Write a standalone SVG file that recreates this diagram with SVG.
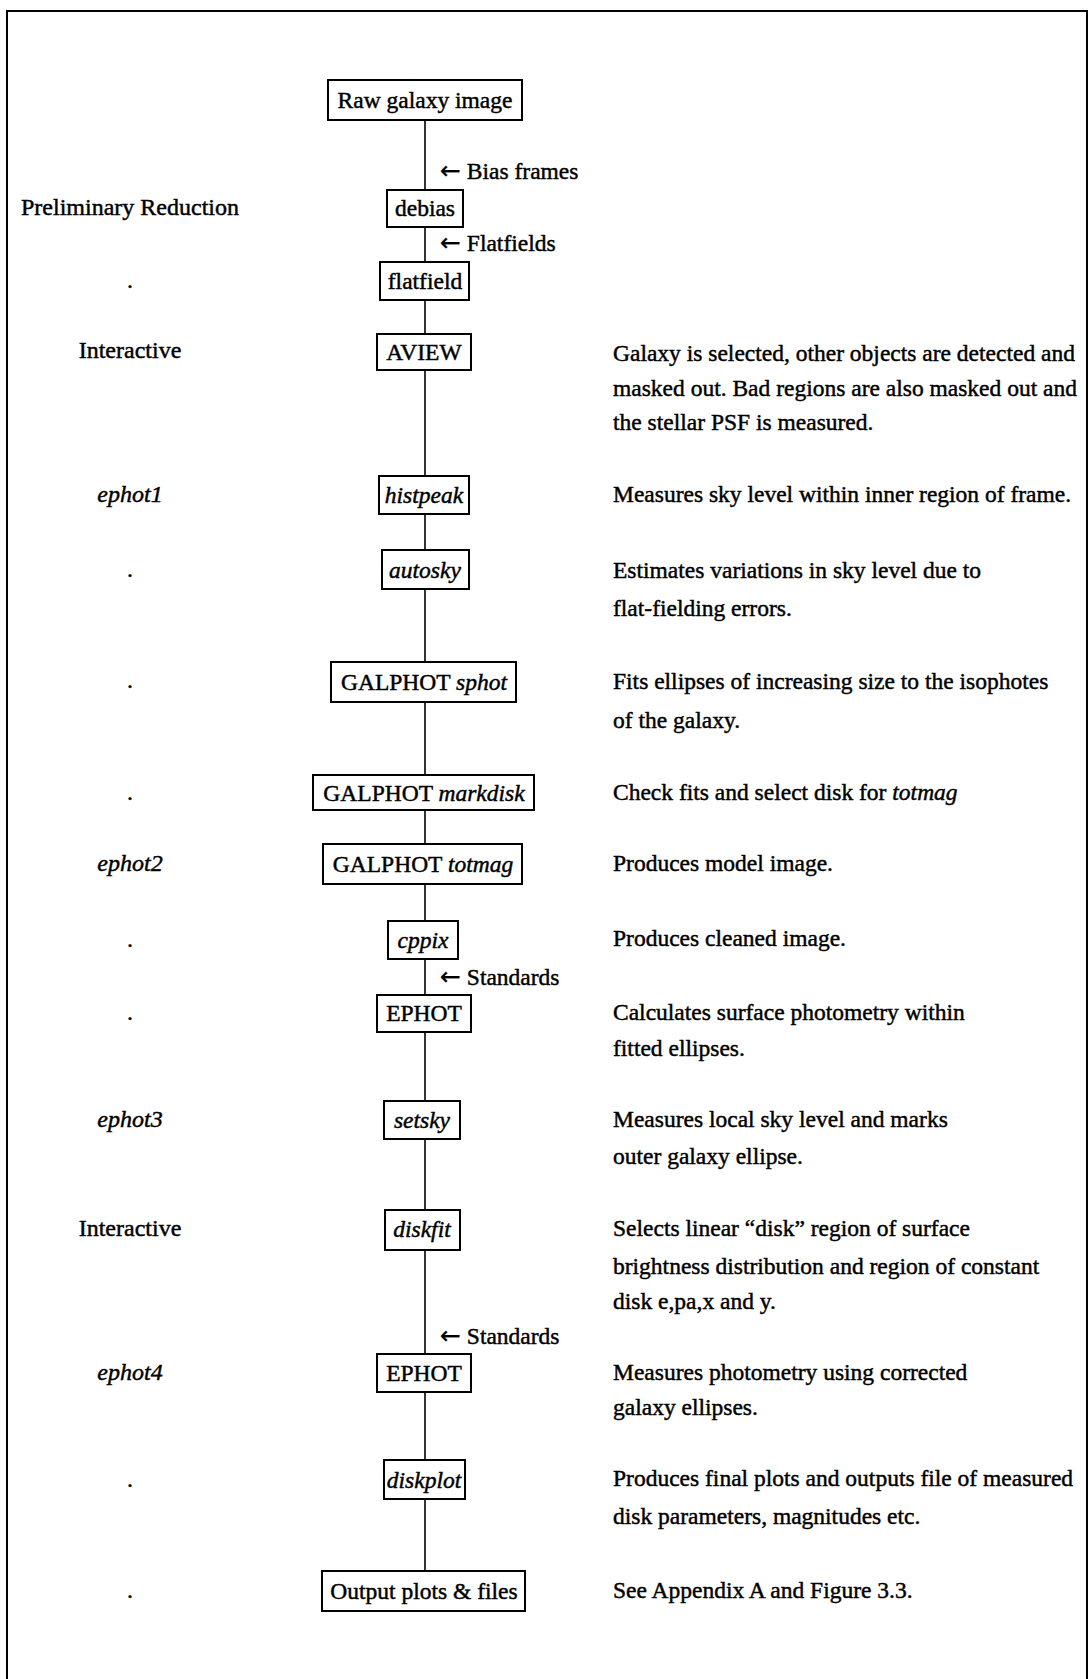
<svg xmlns="http://www.w3.org/2000/svg" width="1091" height="1679" viewBox="0 0 1091 1679">
<style>
text{font-family:"Liberation Serif","Times New Roman",serif;fill:#000;stroke:#000;stroke-width:0.45}
.b{font-size:23.5px;text-anchor:middle}
.l{font-size:24px;text-anchor:middle}
.d{font-size:23.5px}
.i{font-style:italic}
.ar{font-family:"DejaVu Sans",sans-serif;font-size:25px;stroke-width:0.2}
.box{fill:#fff;stroke:#000;stroke-width:2}
.ln{stroke:#000;stroke-width:1.6;fill:none}
</style>
<rect width="1091" height="1679" fill="#fff"/>
<path d="M7,1679 V11 H1087 V1679" fill="none" stroke="#000" stroke-width="2"/>
<g id="connectors">
<line class="ln" x1="425" y1="120" x2="425" y2="1571"/>
<text class="d" x="440" y="179"><tspan class="ar">←</tspan> Bias frames</text>
<text class="d" x="440" y="251"><tspan class="ar">←</tspan> Flatfields</text>
<text class="d" x="440" y="985"><tspan class="ar">←</tspan> Standards</text>
<text class="d" x="440" y="1344"><tspan class="ar">←</tspan> Standards</text>
</g>
<g id="n-raw"><rect class="box" x="328" y="80" width="194" height="40"/><text class="b" x="425" y="108">Raw galaxy image</text></g>
<g id="n-debias"><rect class="box" x="387" y="190" width="76" height="37"/><text class="b" x="425" y="216">debias</text></g>
<g id="n-flatfield"><rect class="box" x="380" y="262" width="89" height="38"/><text class="b" x="425" y="289">flatfield</text></g>
<g id="n-aview"><rect class="box" x="377" y="334" width="94" height="36"/><text class="b" x="424" y="360">AVIEW</text></g>
<g id="n-histpeak"><rect class="box" x="379" y="476" width="90" height="38"/><text class="b i" x="424" y="503">histpeak</text></g>
<g id="n-autosky"><rect class="box" x="382" y="550" width="87" height="39"/><text class="b i" x="425" y="578">autosky</text></g>
<g id="n-sphot"><rect class="box" x="331" y="662" width="185" height="40"/><text class="b" x="424" y="690">GALPHOT <tspan class="i">sphot</tspan></text></g>
<g id="n-markdisk"><rect class="box" x="313" y="775" width="221" height="35"/><text class="b" x="424" y="801">GALPHOT <tspan class="i">markdisk</tspan></text></g>
<g id="n-totmag"><rect class="box" x="323" y="844" width="199" height="40"/><text class="b" x="423" y="872">GALPHOT <tspan class="i">totmag</tspan></text></g>
<g id="n-cppix"><rect class="box" x="388" y="921" width="70" height="38"/><text class="b i" x="423" y="948">cppix</text></g>
<g id="n-ephot1"><rect class="box" x="377" y="995" width="94" height="37"/><text class="b" x="424" y="1021">EPHOT</text></g>
<g id="n-setsky"><rect class="box" x="384" y="1101" width="76" height="38"/><text class="b i" x="422" y="1128">setsky</text></g>
<g id="n-diskfit"><rect class="box" x="385" y="1210" width="75" height="40"/><text class="b i" x="422" y="1237">diskfit</text></g>
<g id="n-ephot2"><rect class="box" x="377" y="1354" width="94" height="38"/><text class="b" x="424" y="1381">EPHOT</text></g>
<g id="n-diskplot"><rect class="box" x="384" y="1460" width="81" height="39"/><text class="b i" x="424" y="1488">diskplot</text></g>
<g id="n-output"><rect class="box" x="322" y="1571" width="203" height="40"/><text class="b" x="424" y="1599">Output plots &amp; files</text></g>
<g id="left-labels">
<text class="l" x="130" y="215">Preliminary Reduction</text>
<text class="l" x="130" y="288">.</text>
<text class="l" x="130" y="358">Interactive</text>
<text class="l i" x="130" y="502">ephot1</text>
<text class="l" x="130" y="577">.</text>
<text class="l" x="130" y="688">.</text>
<text class="l" x="130" y="800">.</text>
<text class="l i" x="130" y="871">ephot2</text>
<text class="l" x="130" y="947">.</text>
<text class="l" x="130" y="1020">.</text>
<text class="l i" x="130" y="1127">ephot3</text>
<text class="l" x="130" y="1236">Interactive</text>
<text class="l i" x="130" y="1380">ephot4</text>
<text class="l" x="130" y="1487">.</text>
<text class="l" x="130" y="1598">.</text>
</g>
<g id="descriptions">
<text class="d" x="613" y="361">Galaxy is selected, other objects are detected and</text>
<text class="d" x="613" y="396">masked out. Bad regions are also masked out and</text>
<text class="d" x="613" y="430">the stellar PSF is measured.</text>
<text class="d" x="613" y="502">Measures sky level within inner region of frame.</text>
<text class="d" x="613" y="578">Estimates variations in sky level due to</text>
<text class="d" x="613" y="616">flat-fielding errors.</text>
<text class="d" x="613" y="689">Fits ellipses of increasing size to the isophotes</text>
<text class="d" x="613" y="728">of the galaxy.</text>
<text class="d" x="613" y="800">Check fits and select disk for <tspan class="i">totmag</tspan></text>
<text class="d" x="613" y="871">Produces model image.</text>
<text class="d" x="613" y="946">Produces cleaned image.</text>
<text class="d" x="613" y="1020">Calculates surface photometry within</text>
<text class="d" x="613" y="1056">fitted ellipses.</text>
<text class="d" x="613" y="1127">Measures local sky level and marks</text>
<text class="d" x="613" y="1164">outer galaxy ellipse.</text>
<text class="d" x="613" y="1236">Selects linear “disk” region of surface</text>
<text class="d" x="613" y="1274">brightness distribution and region of constant</text>
<text class="d" x="613" y="1309">disk e,pa,x and y.</text>
<text class="d" x="613" y="1380">Measures photometry using corrected</text>
<text class="d" x="613" y="1415">galaxy ellipses.</text>
<text class="d" x="613" y="1486">Produces final plots and outputs file of measured</text>
<text class="d" x="613" y="1524">disk parameters, magnitudes etc.</text>
<text class="d" x="613" y="1598">See Appendix A and Figure 3.3.</text>
</g>
</svg>
